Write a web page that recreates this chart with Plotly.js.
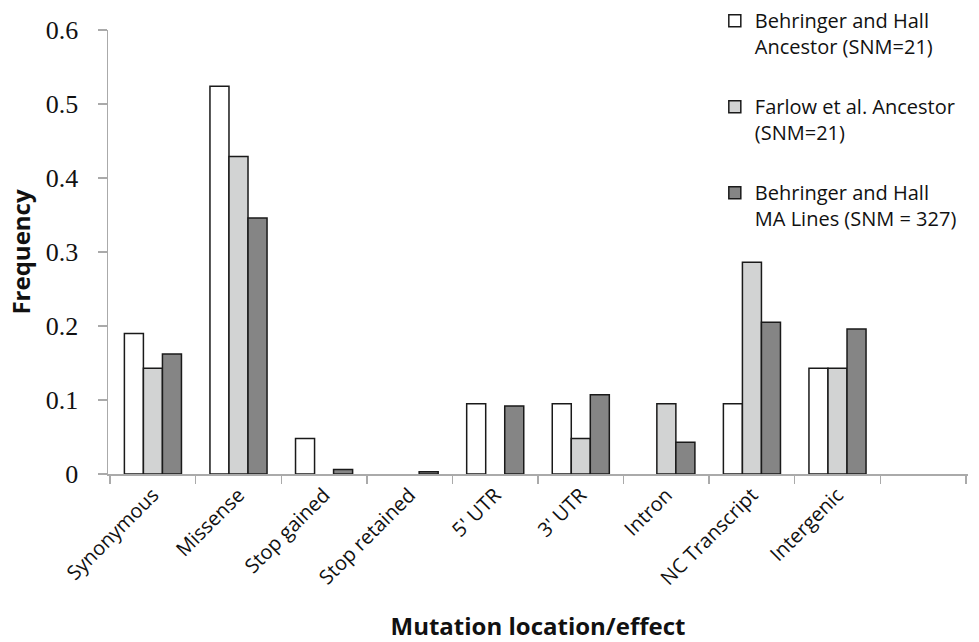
<!DOCTYPE html>
<html>
<head>
<meta charset="utf-8">
<script src="https://cdn.plot.ly/plotly-3.0.1.min.js"></script>
<style>html,body{margin:0;padding:0;background:#fff;}#chart{width:979px;height:642px;}</style>
</head>
<body>
<div id="chart"></div>
<script>
var categories = ["Synonymous", "Missense", "Stop gained", "Stop retained", "5' UTR", "3' UTR", "Intron", "NC Transcript", "Intergenic"];
var emptyCategory = " ";
var seriesNames = ["Behringer and Hall<br>Ancestor (SNM=21)", "Farlow et al. Ancestor<br>(SNM=21)", "Behringer and Hall<br>MA Lines (SNM = 327)"];
var bhAncestor = [0.190, 0.524, 0.048, 0, 0.095, 0.095, 0, 0.095, 0.143];
var farlowAncestor = [0.143, 0.429, 0, 0, 0, 0.048, 0.095, 0.286, 0.143];
var bhMALines = [0.162, 0.346, 0.006, 0.003, 0.092, 0.107, 0.043, 0.205, 0.196];
var yTicks = [0, 0.1, 0.2, 0.3, 0.4, 0.5, 0.6];
var yTickLabels = ["0", "0.1", "0.2", "0.3", "0.4", "0.5", "0.6"];

var colors = ["#ffffff", "#d2d3d3", "#858585"];
var allSeries = [bhAncestor, farlowAncestor, bhMALines];
var axisCategories = categories.concat([emptyCategory]);
var traces = allSeries.map(function (vals, i) {
  var yv = vals.concat([null]);
  return {
    type: "bar",
    x: axisCategories,
    y: yv,
    name: seriesNames[i],
    legendgroup: "g" + i,
    marker: {
      color: colors[i],
      line: { color: "#1a1a1a", width: yv.map(function (v) { return v > 0 ? 1.5 : 0; }) }
    }
  };
});

var layout = {
  width: 979,
  height: 642,
  margin: { l: 108, r: 11, t: 30, b: 168, autoexpand: false },
  paper_bgcolor: "#fff",
  plot_bgcolor: "#fff",
  barmode: "group",
  bargap: 0.333,
  bargroupgap: 0,
  showlegend: true,
  legend: {
    x: 0.7056, y: 1.065, xanchor: "left", yanchor: "top",
    font: { family: "Open Sans, sans-serif", size: 20, color: "#111" },
    traceorder: "grouped",
    tracegroupgap: 31,
    valign: "top",
    bgcolor: "rgba(0,0,0,0)"
  },
  xaxis: {
    type: "category",
    categoryorder: "array",
    categoryarray: axisCategories,
    range: [-0.525, 9.525],
    tickson: "boundaries",
    ticks: "outside",
    ticklen: 8,
    tickcolor: "#aaaaaa",
    tickwidth: 1.5,
    showline: true,
    linecolor: "#aaaaaa",
    linewidth: 1.5,
    showgrid: false,
    zeroline: false,
    tickangle: -45,
    tickfont: { family: "Open Sans, sans-serif", size: 20, color: "#111" },
    title: { text: "<b>Mutation location/effect</b>", font: { family: "Open Sans, sans-serif", size: 24, color: "#111" }, standoff: 28 }
  },
  yaxis: {
    range: [0, 0.6],
    tickvals: yTicks,
    ticktext: yTickLabels,
    ticks: "outside",
    ticklen: 9,
    tickcolor: "#aaaaaa",
    tickwidth: 1.5,
    showline: true,
    linecolor: "#aaaaaa",
    linewidth: 1.5,
    showgrid: false,
    zeroline: false,
    ticklabelstandoff: 14,
    tickfont: { family: "Liberation Serif, Times New Roman, serif", size: 26, color: "#111" },
    title: { text: "<b>Frequency</b>", font: { family: "Open Sans, sans-serif", size: 24, color: "#111" }, standoff: 8 }
  }
};

Plotly.newPlot("chart", traces, layout, { displayModeBar: false, staticPlot: true });
</script>
</body>
</html>
